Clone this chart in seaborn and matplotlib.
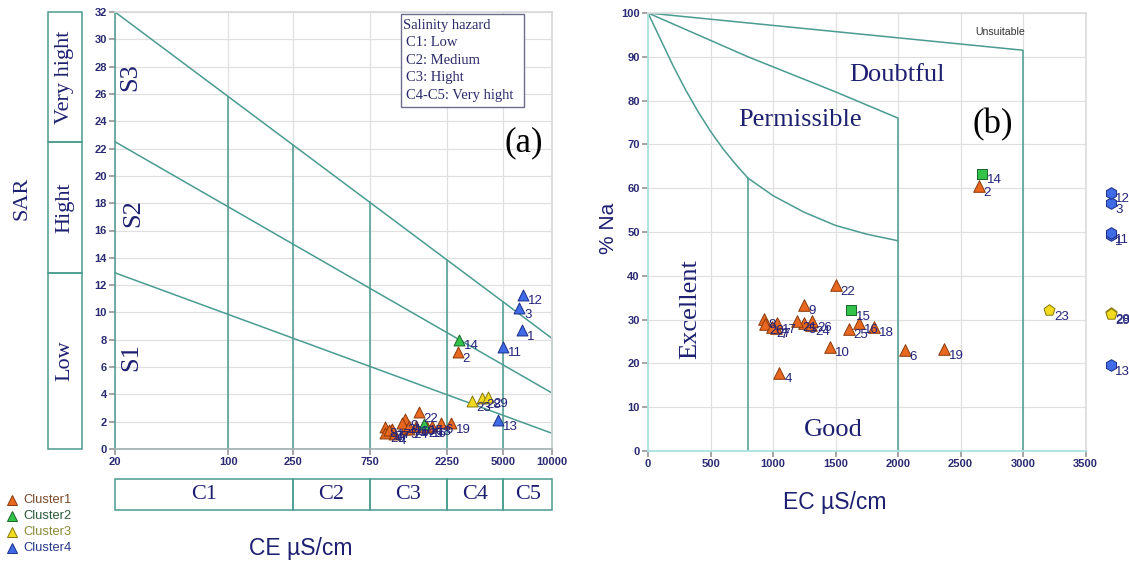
import numpy as np
import pandas as pd
import matplotlib
matplotlib.use("Agg")
import matplotlib.pyplot as plt
import matplotlib.transforms as mtransforms
from matplotlib.patches import Rectangle
from matplotlib.lines import Line2D
from matplotlib.ticker import NullLocator
import seaborn as sns

# ---------------- data ----------------
sample_ids = list(range(1, 30))
clusters = ["Cluster4", "Cluster1", "Cluster4", "Cluster1", "Cluster1", "Cluster1", "Cluster1",
            "Cluster1", "Cluster1", "Cluster1", "Cluster4", "Cluster4", "Cluster4", "Cluster2",
            "Cluster2", "Cluster1", "Cluster1", "Cluster1", "Cluster1", "Cluster1", "Cluster1",
            "Cluster1", "Cluster3", "Cluster1", "Cluster1", "Cluster1", "Cluster1", "Cluster3",
            "Cluster3"]
# panel (a): Richards diagram
ec_values = [6500, 2620, 6280, 1050, 1245, 2052, 1020, 925, 1245, 1453, 5000, 6650, 4665, 2680,
             1624, 1685, 1030, 1810, 2370, 935, 1192, 1501, 3193, 1300, 1605, 1312, 990, 3683,
             4046]
sar_values = [8.7, 7.1, 10.3, 1.1, 1.5, 1.9, 1.4, 1.6, 2.2, 1.7, 7.5, 11.3, 2.1, 8.0,
              1.8, 1.6, 1.5, 1.7, 1.9, 1.2, 1.9, 2.7, 3.5, 1.5, 1.6, 1.7, 1.4, 3.7, 3.8]
# panel (b): Wilcox diagram (points beyond the axis drawn at its right edge)
ec_wilcox = [3700, 2645, 3700, 1051, 1245, 2052, 1020, 925, 1245, 1453, 3700, 3700, 3700, 2671,
             1624, 1685, 1030, 1810, 2370, 935, 1192, 1501, 3210, 1300, 1605, 1312, 990, 3700,
             3700]
na_percent = [49.3, 60.4, 56.6, 17.9, 29.2, 23.1, 28.0, 30.2, 33.4, 23.8, 49.7, 59.0, 19.6, 63.3,
              32.1, 29.2, 29.2, 28.4, 23.3, 29.0, 29.7, 37.8, 32.2, 28.8, 27.9, 29.6, 28.3, 31.5,
              31.3]

cluster_names = ["Cluster1", "Cluster2", "Cluster3", "Cluster4"]
cluster_face = ["#E8681F", "#33C24A", "#F2DA1E", "#3F6BE6"]
cluster_edge = ["#8A3A0C", "#17662A", "#86790C", "#1C2D86"]
cluster_text = ["#7A4A2A", "#2A5A3A", "#8A8A3A", "#2A3A8A"]
wilcox_markers = ["^", "s", "p", "h"]

# Richards classification
ec_ticks = [20, 100, 250, 750, 2250, 5000, 10000]
ec_classes = ["C1", "C2", "C3", "C4", "C5"]
ec_class_edges = [20, 250, 750, 2250, 5000, 10000]
sar_at_20 = [12.9, 22.5, 32.0]
sar_at_10000 = [1.15, 4.1, 8.1]
sar_classes = ["Low", "Hight", "Very hight"]
sar_class_edges = [0, 12.9, 22.5, 32.0]
salinity_lines = ["Salinity hazard", "C1: Low", "C2: Medium", "C3: Hight", "C4-C5: Very hight"]

# Wilcox boundaries
unsuit_ec = [0, 3000, 3000]
unsuit_na = [100, 91.5, 0]
doubt_ec = [0, 800, 1500, 2000, 2000]
doubt_na = [100, 90, 82, 76, 0]
perm_ec = [0, 100, 200, 300, 400, 500, 600, 700, 800, 1000, 1250, 1500, 1750, 2000]
perm_na = [100, 94, 88, 82.5, 77.5, 73, 69, 65.5, 62.3, 58.3, 54.5, 51.5, 49.5, 48]
excel_ec = [800, 800]
excel_na = [0, 62.3]

df = pd.DataFrame({"id": sample_ids, "cluster": clusters, "ec": ec_values, "sar": sar_values,
                   "ec_w": ec_wilcox, "na": na_percent})

# ---------------- style ----------------
sns.set_theme(style="white")
plt.rcParams["font.family"] = ["Liberation Sans", "DejaVu Sans"]
SERIF = ["Liberation Serif", "DejaVu Serif"]
NAVY = "#1d2070"
TICKC = "#2a2a72"
TEAL = "#4a9b90"
GRID = "#e0e0e0"

W, H = 1129, 564
fig = plt.figure(figsize=(W / 100, H / 100), dpi=100)


def fx(px):
    return px / W


def fy(py):
    return 1 - py / H


ax_a = fig.add_axes([fx(115), fy(449), (552 - 115) / W, (449 - 12) / H])
ax_b = fig.add_axes([fx(648), fy(451), (1085.5 - 648) / W, (451 - 13) / H])

# ================= panel (a) =================
ax_a.set_xscale("log")
ax_a.set_xlim(20, 10000)
ax_a.set_ylim(0, 32)
ax_a.set_xticks(ec_ticks)
ax_a.set_xticklabels([str(t) for t in ec_ticks])
ax_a.xaxis.set_minor_locator(NullLocator())
ax_a.set_yticks(range(0, 33, 2))
ax_a.grid(True, color=GRID, lw=0.9)
ax_a.set_axisbelow(True)
for s in ["top", "right"]:
    ax_a.spines[s].set_color("#d8d8d8")
ax_a.spines["left"].set_visible(False)
ax_a.spines["bottom"].set_color("#9fb3b0")

# classification lines
for lo, hi in zip(sar_at_20, sar_at_10000):
    ax_a.plot([20, 10000], [lo, hi], color=TEAL, lw=1.1, clip_on=False, zorder=2)
top_lo, top_hi = sar_at_20[-1], sar_at_10000[-1]
for x in ec_ticks:
    ytop = np.interp(np.log10(x), np.log10([20, 10000]), [top_lo, top_hi])
    ax_a.plot([x, x], [0, ytop], color=TEAL, lw=1.1, clip_on=False, zorder=2)

for i, name in enumerate(cluster_names):
    sub = df[df.cluster == name]
    sns.scatterplot(data=sub, x="ec", y="sar", marker="^", s=62, color=cluster_face[i],
                    edgecolor=cluster_edge[i], linewidth=0.7, legend=False, ax=ax_a, zorder=5)
for _, r in df.iterrows():
    ax_a.annotate(str(r["id"]), (r["ec"], r["sar"]), xytext=(3.5, -0.5), textcoords="offset points",
                  ha="left", va="top", fontsize=9.5, color="#23237a", zorder=6)
ax_a.set_xlabel("")
ax_a.set_ylabel("")
ax_a.tick_params(axis="both", length=4, color="#9a9a9a", labelsize=8, labelcolor=TICKC, pad=2,
                 bottom=True, left=True)
for lbl in ax_a.get_xticklabels() + ax_a.get_yticklabels():
    lbl.set_fontweight("bold")

# zone labels
ax_a.text(0.036, 0.851, "S3", transform=ax_a.transAxes, rotation=90, ha="center", va="center",
          family=SERIF, fontsize=19, color=NAVY)
ax_a.text(0.041, 0.540, "S2", transform=ax_a.transAxes, rotation=90, ha="center", va="center",
          family=SERIF, fontsize=19, color=NAVY)
ax_a.text(0.037, 0.210, "S1", transform=ax_a.transAxes, rotation=90, ha="center", va="center",
          family=SERIF, fontsize=19, color=NAVY)
ax_a.text(0.936, 0.700, "(a)", transform=ax_a.transAxes, ha="center", va="center",
          family=SERIF, fontsize=25, color="black")

# salinity hazard box
ax_a.add_patch(Rectangle((0.654, 0.7826), 0.936 - 0.654, 0.995 - 0.7826, transform=ax_a.transAxes,
                         fill=True, facecolor="white", edgecolor="#6c6c8c", lw=1.0, zorder=4,
                         clip_on=False))
for k, line in enumerate(salinity_lines):
    ypx = 25 + 17.5 * k
    ax_a.text(0.660 if k == 0 else 0.665, 1 - (ypx - 12) / 437, line, transform=ax_a.transAxes,
              ha="left", va="center", family=SERIF, fontsize=10.5, color="#2a2a6a", zorder=5)

# left SAR class boxes
blend_y = mtransforms.blended_transform_factory(fig.transFigure, ax_a.transData)
for k, name in enumerate(sar_classes):
    y0, y1 = sar_class_edges[k], sar_class_edges[k + 1]
    fig.add_artist(Rectangle((fx(48), y0), fx(34), y1 - y0, transform=blend_y, fill=False,
                             edgecolor=TEAL, lw=1.1))
    fig.text(fx(65), (y0 + y1) / 2, name, transform=blend_y, rotation=90, ha="center",
             va="center", family=SERIF, fontsize=16, color=NAVY)

# bottom EC class boxes
blend_x = mtransforms.blended_transform_factory(ax_a.transData, fig.transFigure)
for k, name in enumerate(ec_classes):
    x0, x1 = ec_class_edges[k], ec_class_edges[k + 1]
    fig.add_artist(Rectangle((x0, fy(510)), x1 - x0, fy(479) - fy(510), transform=blend_x,
                             fill=False, edgecolor=TEAL, lw=1.1))
    fig.text(np.sqrt(x0 * x1), fy(494.5), name, transform=blend_x, ha="center", va="center",
             family=SERIF, fontsize=16, color=NAVY)

fig.text(fx(22), fy(198), "SAR", rotation=90, ha="center", va="center", family=SERIF,
         fontsize=16, color=NAVY)
fig.text(fx(301), fy(548), "CE µS/cm", ha="center", va="center", fontsize=16.5, color=NAVY)

# cluster legend
for k, name in enumerate(cluster_names):
    ypx = 500 + 16 * k
    fig.add_artist(Line2D([fx(11.5)], [fy(ypx)], marker="^", markersize=7.5, linestyle="none",
                          markerfacecolor=cluster_face[k], markeredgecolor=cluster_edge[k],
                          markeredgewidth=0.7, transform=fig.transFigure))
    fig.text(fx(23), fy(ypx), name, ha="left", va="center", fontsize=9.3, color=cluster_text[k])

# ================= panel (b) =================
ax_b.set_xlim(0, 3500)
ax_b.set_ylim(0, 100)
ax_b.set_xticks(range(0, 3501, 500))
ax_b.set_yticks(range(0, 101, 10))
ax_b.grid(True, color=GRID, lw=0.9)
ax_b.set_axisbelow(True)
for s in ["top", "right"]:
    ax_b.spines[s].set_color("#dcdcdc")
for s in ["left", "bottom"]:
    ax_b.spines[s].set_color("#a9e3de")
    ax_b.spines[s].set_linewidth(1.3)

ax_b.plot(unsuit_ec, unsuit_na, color=TEAL, lw=1.1, zorder=2)
ax_b.plot(doubt_ec, doubt_na, color=TEAL, lw=1.1, zorder=2)
ax_b.plot(perm_ec, perm_na, color=TEAL, lw=1.1, zorder=2)
ax_b.plot(excel_ec, excel_na, color=TEAL, lw=1.1, zorder=2)

for i, name in enumerate(cluster_names):
    sub = df[df.cluster == name]
    sns.scatterplot(data=sub, x="ec_w", y="na", marker=wilcox_markers[i],
                    s=70 if wilcox_markers[i] != "s" else 50, color=cluster_face[i],
                    edgecolor=cluster_edge[i], linewidth=0.7, legend=False, ax=ax_b, zorder=5)
for c in ax_b.collections:
    c.set_clip_on(False)
for _, r in df.iterrows():
    ax_b.annotate(str(r["id"]), (r["ec_w"], r["na"]), xytext=(3.5, -0.5),
                  textcoords="offset points", ha="left", va="top", fontsize=9.5,
                  color="#23237a", zorder=6, annotation_clip=False)
ax_b.set_xlabel("")
ax_b.set_ylabel("")
ax_b.tick_params(axis="both", length=4, color="#9a9a9a", labelsize=8, labelcolor=TICKC, pad=2,
                 bottom=True, left=True)
for lbl in ax_b.get_xticklabels() + ax_b.get_yticklabels():
    lbl.set_fontweight("bold")

ax_b.text(1218, 75.6, "Permissible", ha="center", va="center", family=SERIF, fontsize=19,
          color=NAVY)
ax_b.text(1994, 85.9, "Doubtful", ha="center", va="center", family=SERIF, fontsize=19, color=NAVY)
ax_b.text(2818, 95.6, "Unsuitable", ha="center", va="center", fontsize=7.6, color="#333333")
ax_b.text(2759, 74.5, "(b)", ha="center", va="center", family=SERIF, fontsize=25, color="black")
ax_b.text(339, 32.4, "Excellent", rotation=90, ha="center", va="center", family=SERIF,
          fontsize=19, color=NAVY)
ax_b.text(1485, 4.8, "Good", ha="center", va="center", family=SERIF, fontsize=19, color=NAVY)

fig.text(fx(608), fy(228), "% Na", rotation=90, ha="center", va="center", fontsize=15,
         color=NAVY)
fig.text(fx(835), fy(502), "EC µS/cm", ha="center", va="center", fontsize=16.5, color=NAVY)

fig.savefig("out.png", dpi=100)
